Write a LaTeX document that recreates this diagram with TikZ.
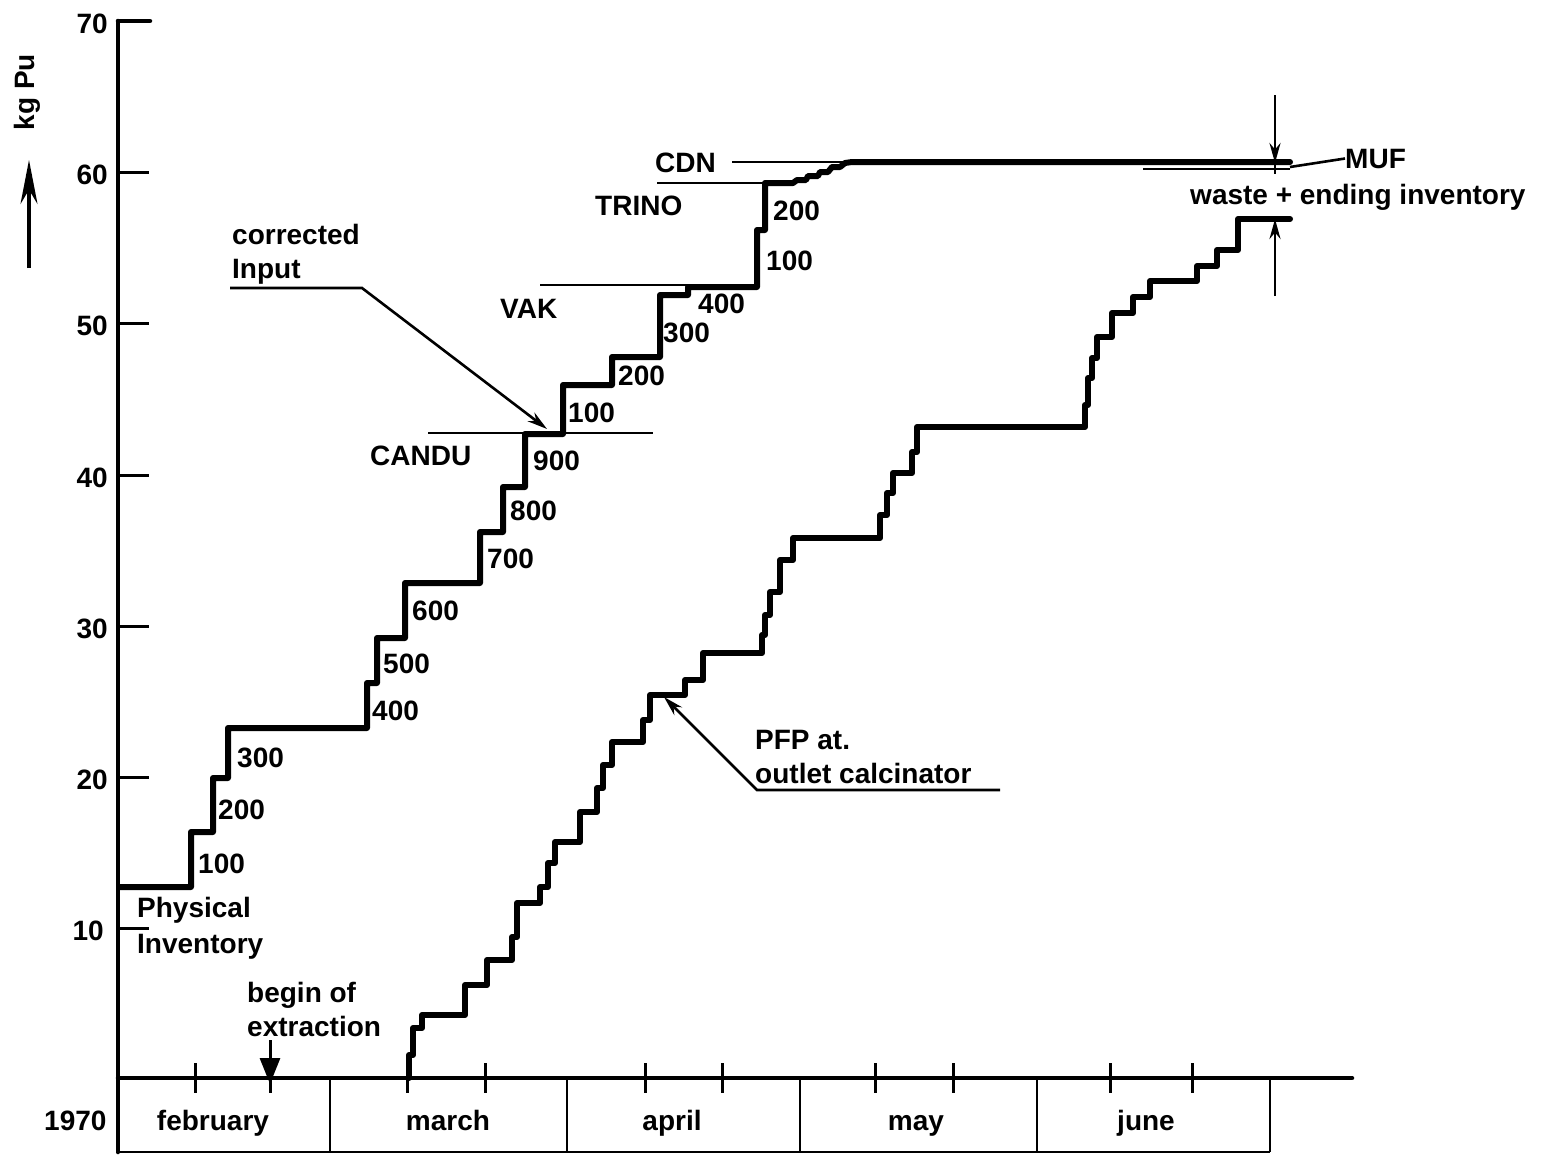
\documentclass[tikz,border=0pt]{standalone}
\usepackage{fontspec}
\setmainfont{Liberation Sans}
\usetikzlibrary{arrows.meta}
\begin{document}
\begin{tikzpicture}[x=1pt,y=-1pt,
  lbl/.style={inner sep=0pt, anchor=base west, font=\fontsize{28}{32}\selectfont\bfseries},
  lble/.style={inner sep=0pt, anchor=base east, font=\fontsize{28}{32}\selectfont\bfseries},
  lblc/.style={inner sep=0pt, anchor=base, font=\fontsize{28}{32}\selectfont\bfseries},
  axisline/.style={line width=4.5pt, line cap=round},
  tickline/.style={line width=3pt},
  boxline/.style={line width=2.6pt},
  stair/.style={line width=6pt, line join=round, line cap=round},
  leader/.style={line width=2.6pt},
  smalltip/.style={-{Stealth[length=20pt,width=11pt]}}
]
\useasboundingbox (0,0) rectangle (1544,1154);

% ---------- axes ----------
\draw[axisline] (118,21) -- (118,1152);
\draw[axisline] (118,21) -- (150,21);
\foreach \y in {172,323,475,626,777,928} \draw[tickline] (118,\y) -- (149,\y);
\draw[axisline] (118,1078) -- (1352,1078);
\foreach \x in {195,407,485,645,722,875,953,1110,1192} \draw[tickline] (\x,1063) -- (\x,1093);
\draw[tickline] (270,1078) -- (270,1093);
\foreach \x in {330,567,800,1037,1270} \draw[boxline] (\x,1078) -- (\x,1152);
\draw[boxline] (118,1152) -- (1270,1152);

% y labels
\node[lble] (y70) at (108,33) {70};
\node[lble] (y60) at (108,184) {60};
\node[lble] (y50) at (108,335) {50};
\node[lble] (y40) at (108,487) {40};
\node[lble] (y30) at (108,638) {30};
\node[lble] (y20) at (108,789) {20};
\node[lble] (y10) at (104,940) {10};

\node[inner sep=0pt, rotate=90, font=\fontsize{28}{32}\selectfont\bfseries] (kgpu) at (27,92) {kg Pu};
\coordinate (arrlow) at (29,268);
\coordinate (arrhigh) at (29,160);
\draw[line width=3.5pt, -{Stealth[length=44pt,width=17pt]}] (arrlow) -- (arrhigh);

% months
\node[lbl] (yr) at (44,1130) {1970};
\node[lblc] (feb) at (213,1130) {february};
\node[lblc] (mar) at (448,1130) {march};
\node[lblc] (apr) at (672,1130) {april};
\node[lblc] (may) at (916,1130) {may};
\node[lblc] (jun) at (1146,1130) {june};

% ---------- reference level lines ----------
\draw[leader] (428,433) -- (653,433);
\draw[leader] (540,285) -- (757,285);
\draw[leader] (657,183) -- (763,183);
\draw[leader] (732,162) -- (850,162);
\draw[leader] (1143,169) -- (1290,169);

% ---------- corrected input staircase ----------
\draw[stair] (120,887) -- (191,887) -- (191,832) -- (213,832) -- (213,778) -- (228,778) -- (228,728)
  -- (367,728) -- (367,683) -- (377,683) -- (377,638) -- (405,638) -- (405,583) -- (480,583)
  -- (480,532) -- (503,532) -- (503,487) -- (525,487) -- (525,434) -- (563,434) -- (563,385)
  -- (612,385) -- (612,357) -- (660,357) -- (660,295) -- (688,295) -- (688,287) -- (757,287)
  -- (757,230) -- (765,230) -- (765,183) -- (793,183) -- (797,180) -- (806,180) -- (808,176)
  -- (818,176) -- (820,172) -- (828,172) -- (832,167) -- (840,167) -- (845,163) -- (852,162)
  -- (1290,162);

% ---------- PFP staircase ----------
\draw[stair] (409,1078) -- (409,1055) -- (413,1055) -- (413,1028) -- (422,1028) -- (422,1015)
  -- (465,1015) -- (465,985) -- (487,985) -- (487,960) -- (512,960) -- (512,937) -- (517,937)
  -- (517,903) -- (540,903) -- (540,887) -- (548,887) -- (548,863) -- (555,863) -- (555,842)
  -- (580,842) -- (580,812) -- (597,812) -- (597,788) -- (603,788) -- (603,765) -- (612,765)
  -- (612,742) -- (643,742) -- (643,720) -- (650,720) -- (650,695) -- (685,695) -- (685,680)
  -- (703,680) -- (703,653) -- (762,653) -- (762,635) -- (765,635) -- (765,615) -- (770,615)
  -- (770,592) -- (780,592) -- (780,560) -- (793,560) -- (793,538) -- (880,538) -- (880,515)
  -- (887,515) -- (887,493) -- (893,493) -- (893,473) -- (912,473) -- (912,452) -- (917,452)
  -- (917,427) -- (1085,427) -- (1085,405) -- (1088,405) -- (1088,378) -- (1092,378)
  -- (1092,358) -- (1097,358) -- (1097,337) -- (1112,337) -- (1112,313) -- (1133,313)
  -- (1133,297) -- (1150,297) -- (1150,281) -- (1197,281) -- (1197,266) -- (1217,266)
  -- (1217,250) -- (1238,250) -- (1238,219) -- (1290,219);

% ---------- step labels ----------
\node[lbl] (s100a) at (198,873) {100};
\node[lbl] (s200a) at (218,819) {200};
\node[lbl] (s300a) at (237,767) {300};
\node[lbl] (s400a) at (372,720) {400};
\node[lbl] (s500a) at (383,673) {500};
\node[lbl] (s600a) at (412,620) {600};
\node[lbl] (s700a) at (487,568) {700};
\node[lbl] (s800a) at (510,520) {800};
\node[lbl] (s900a) at (533,470) {900};
\node[lbl] (s100b) at (568,422) {100};
\node[lbl] (s200b) at (618,385) {200};
\node[lbl] (s300b) at (663,342) {300};
\node[lbl] (s400b) at (698,313) {400};
\node[lbl] (s100c) at (766,270) {100};
\node[lbl] (s200c) at (773,220) {200};

% ---------- text labels ----------
\node[lbl] (phys) at (137,917) {Physical};
\node[lbl] (inv) at (137,953) {Inventory};
\node[lbl] (corr) at (232,244) {corrected};
\node[lbl] (inp) at (232,278) {Input};
\node[lbl] (candu) at (370,465) {CANDU};
\node[lbl] (vak) at (500,318) {VAK};
\node[lbl] (trino) at (595,215) {TRINO};
\node[lbl] (cdn) at (655,172) {CDN};
\node[lbl] (muf) at (1345,168) {MUF};
\node[lbl] (waste) at (1190,204) {waste + ending inventory};
\node[lbl] (begin) at (247,1002) {begin of};
\node[lbl] (extr) at (247,1036) {extraction};
\node[lbl] (pfp) at (755,749) {PFP at.};
\node[lbl] (outl) at (755,783) {outlet calcinator};

% ---------- leaders ----------
\coordinate (ci0) at (230,288);
\coordinate (ci1) at (362,288);
\coordinate (ci2) at (547,429);
\draw[leader, smalltip] (ci0) -- (ci1) -- (ci2);

\coordinate (pf0) at (1000,790);
\coordinate (pf1) at (757,790);
\coordinate (pf2) at (664,697);
\draw[leader, smalltip] (pf0) -- (pf1) -- (pf2);

\coordinate (be0) at (270,1040);
\coordinate (be1) at (270,1084);
\draw[line width=3pt, -{Triangle[length=26pt,width=20pt]}] (be0) -- (be1);

\coordinate (mu0) at (1290,167);
\draw[leader] (mu0) -- (muf.west);

\coordinate (mt0) at (1275,95);
\coordinate (mt1) at (1275,163);
\draw[leader, smalltip] (mt0) -- (mt1);
\draw[leader] (1275,163) -- (1275,174);
\coordinate (mb0) at (1275,296);
\coordinate (mb1) at (1275,219);
\draw[leader, smalltip] (mb0) -- (mb1);
\end{tikzpicture}
\end{document}
